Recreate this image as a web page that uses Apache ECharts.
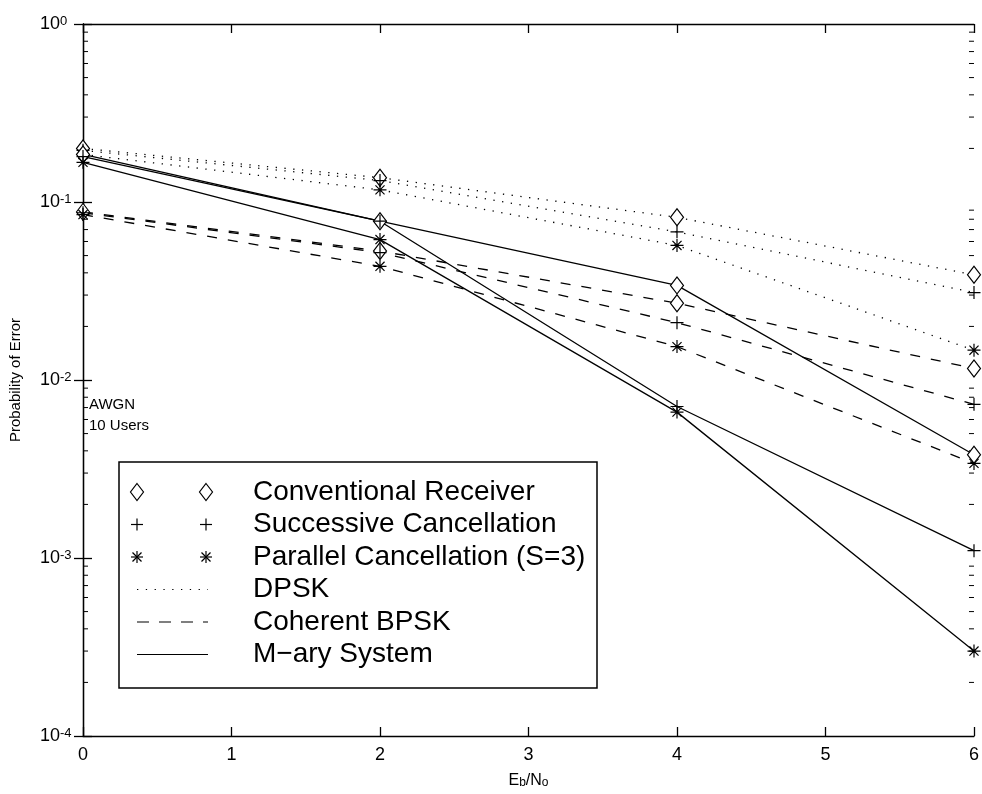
<!DOCTYPE html>
<html>
<head>
<meta charset="utf-8">
<script src="https://cdn.jsdelivr.net/npm/echarts@6/dist/echarts.min.js"></script>
<style>
  html, body { margin: 0; padding: 0; background: #fff; }
  #chart { width: 982px; height: 794px; }
</style>
</head>
<body>
<div id="chart"></div>
<script>
// Eb/No points (dB)
const ebno = [0, 2, 4, 6];

// DPSK
const dpskConventional = [0.2, 0.137, 0.082, 0.039];
const dpskSuccessive   = [0.195, 0.132, 0.068, 0.031];
const dpskParallel     = [0.185, 0.117, 0.057, 0.0147];

// Coherent BPSK
const bpskConventional = [0.088, 0.053, 0.027, 0.0116];
const bpskSuccessive   = [0.087, 0.052, 0.021, 0.0073];
const bpskParallel     = [0.085, 0.0435, 0.0154, 0.0034];

// M-ary system
const maryConventional = [0.185, 0.078, 0.034, 0.0038];
const marySuccessive   = [0.18, 0.078, 0.0071, 0.0011];
const maryParallel     = [0.167, 0.0615, 0.0066, 0.0003];

// minor tick values on the log axis (2..9 x 10^k)
const minorTicks = [];
for (let k = -4; k < 0; k++) {
  for (let m = 2; m <= 9; m++) minorTicks.push(m * Math.pow(10, k));
}

const legendRows = [
  'Conventional Receiver',
  'Successive Cancellation',
  'Parallel Cancellation (S=3)',
  'DPSK',
  'Coherent BPSK',
  'M\u2212ary System'
];

const FONT = '"Liberation Sans", Arial, Helvetica, sans-serif';

const PLUS = 'path://M5,0L5,10M0,5L10,5';
const STAR = 'path://M5,0L5,10M0,5L10,5M1.5,1.5L8.5,8.5M8.5,1.5L1.5,8.5';

const dotted = [1.3, 7.5];
const dashed = [10, 11];

const markers = {
  conventional: { symbol: 'diamond', symbolSize: [13, 17], fill: '#fff' },
  successive:   { symbol: PLUS, symbolSize: 13, fill: 'none' },
  parallel:     { symbol: STAR, symbolSize: 13, fill: 'none' }
};

function curve(values, receiver, dash) {
  const mk = markers[receiver];
  return {
    type: 'line',
    data: ebno.map((x, i) => [x, values[i]]),
    symbol: mk.symbol,
    symbolSize: mk.symbolSize,
    showSymbol: true,
    silent: true,
    clip: false,
    z: 3,
    lineStyle: { color: '#000', width: 1.3, type: dash },
    itemStyle: { color: mk.fill, borderColor: '#000', borderWidth: 1.2 },
    emphasis: { disabled: true }
  };
}

const series = [
  curve(dpskConventional, 'conventional', dotted),
  curve(dpskSuccessive, 'successive', dotted),
  curve(dpskParallel, 'parallel', dotted),
  curve(bpskConventional, 'conventional', dashed),
  curve(bpskSuccessive, 'successive', dashed),
  curve(bpskParallel, 'parallel', dashed),
  curve(maryConventional, 'conventional', 'solid'),
  curve(marySuccessive, 'successive', 'solid'),
  curve(maryParallel, 'parallel', 'solid'),
  {
    // minor ticks on the left and right edges of the box
    type: 'custom',
    silent: true,
    clip: false,
    data: minorTicks.map(v => [0, v]),
    renderItem: function (params, api) {
      const v = api.value(1);
      const l = api.coord([0, v]);
      const r = api.coord([6, v]);
      const st = { stroke: '#000', lineWidth: 1 };
      return {
        type: 'group',
        children: [
          { type: 'line', shape: { x1: l[0], y1: l[1], x2: l[0] + 5, y2: l[1] }, style: st },
          { type: 'line', shape: { x1: r[0] - 5, y1: r[1], x2: r[0], y2: r[1] }, style: st }
        ]
      };
    }
  }
];

// legend drawn as a framed block
const legendLeft = 119, legendTop = 462, legendRight = 597, legendBottom = 688;
const rowY0 = 492, rowStep = 32.5;
const mkX1 = 137, mkX2 = 206, textX = 253;

function diamondShape(cx, cy) {
  return { type: 'polygon', shape: { points: [[cx, cy - 8.5], [cx + 6.5, cy], [cx, cy + 8.5], [cx - 6.5, cy]] },
    style: { fill: '#fff', stroke: '#000', lineWidth: 1.2 } };
}
function plusShape(cx, cy) {
  return { type: 'group', children: [
    { type: 'line', shape: { x1: cx - 6, y1: cy, x2: cx + 6, y2: cy }, style: { stroke: '#000', lineWidth: 1.2 } },
    { type: 'line', shape: { x1: cx, y1: cy - 6, x2: cx, y2: cy + 6 }, style: { stroke: '#000', lineWidth: 1.2 } }
  ] };
}
function starShape(cx, cy) {
  const s = { stroke: '#000', lineWidth: 1.2 };
  return { type: 'group', children: [
    { type: 'line', shape: { x1: cx - 6, y1: cy, x2: cx + 6, y2: cy }, style: s },
    { type: 'line', shape: { x1: cx, y1: cy - 6, x2: cx, y2: cy + 6 }, style: s },
    { type: 'line', shape: { x1: cx - 4.5, y1: cy - 4.5, x2: cx + 4.5, y2: cy + 4.5 }, style: s },
    { type: 'line', shape: { x1: cx - 4.5, y1: cy + 4.5, x2: cx + 4.5, y2: cy - 4.5 }, style: s }
  ] };
}
function sampleLine(cy, dash) {
  return { type: 'line', shape: { x1: mkX1, y1: cy, x2: mkX2 + 2, y2: cy },
    style: { stroke: '#000', lineWidth: 1.2, lineDash: dash } };
}

const legendChildren = [
  { type: 'rect', shape: { x: legendLeft, y: legendTop, width: legendRight - legendLeft, height: legendBottom - legendTop },
    style: { fill: '#fff', stroke: '#000', lineWidth: 1.5 } }
];
const builders = [
  cy => [diamondShape(mkX1, cy), diamondShape(mkX2, cy)],
  cy => [plusShape(mkX1, cy), plusShape(mkX2, cy)],
  cy => [starShape(mkX1, cy), starShape(mkX2, cy)],
  cy => [sampleLine(cy, [1.3, 7.5])],
  cy => [sampleLine(cy, [12, 10])],
  cy => [sampleLine(cy, null)]
];
legendRows.forEach((label, i) => {
  const cy = rowY0 + i * rowStep;
  builders[i](cy).forEach(el => legendChildren.push(el));
  legendChildren.push({ type: 'text', x: textX, y: cy,
    style: { text: label, font: '28px ' + FONT, fill: '#000', textVerticalAlign: 'middle', verticalAlign: 'middle' } });
});

const axisLineStyle = { color: '#000', width: 1.3 };
const logLabel = v => '{b|10}{e|' + Math.round(Math.log10(v)) + '}';

const option = {
  animation: false,
  backgroundColor: '#fff',
  grid: { left: 78, right: 4, top: 24, bottom: 58, containLabel: false },
  xAxis: [
    {
      type: 'value', min: 0, max: 6, interval: 1,
      axisLine: { lineStyle: axisLineStyle },
      axisTick: { inside: true, length: 9, lineStyle: axisLineStyle },
      splitLine: { show: false },
      axisLabel: { color: '#000', fontFamily: FONT, fontSize: 18, margin: 10 },
      name: '{n|E}{s|b}{n|/N}{s|o}',
      nameLocation: 'middle',
      nameGap: 34,
      nameTextStyle: {
        rich: {
          n: { fontFamily: FONT, fontSize: 16, lineHeight: 16, verticalAlign: 'top', color: '#000' },
          s: { fontFamily: FONT, fontSize: 12, lineHeight: 12, padding: [8, 0, 0, 0], verticalAlign: 'bottom', color: '#000' }
        }
      }
    },
    {
      type: 'value', min: 0, max: 6, interval: 1, position: 'top',
      axisLine: { lineStyle: axisLineStyle },
      axisTick: { inside: true, length: 9, lineStyle: axisLineStyle },
      axisLabel: { show: false },
      splitLine: { show: false }
    }
  ],
  yAxis: [
    {
      type: 'log', logBase: 10, min: 1e-4, max: 1,
      axisLine: { lineStyle: axisLineStyle },
      axisTick: { inside: true, length: 9, lineStyle: axisLineStyle },
      splitLine: { show: false },
      axisLabel: {
        formatter: logLabel, margin: 43, align: 'left',
        rich: {
          b: { fontFamily: FONT, fontSize: 18, lineHeight: 18, verticalAlign: 'bottom', color: '#000' },
          e: { fontFamily: FONT, fontSize: 13, lineHeight: 13, padding: [0, 0, 10, 0], verticalAlign: 'top', color: '#000' }
        }
      },
      name: 'Probability of Error',
      nameLocation: 'middle',
      nameGap: 60,
      nameRotate: 90,
      nameTextStyle: { fontFamily: FONT, fontSize: 15, color: '#000' }
    },
    {
      type: 'log', logBase: 10, min: 1e-4, max: 1, position: 'right',
      axisLine: { lineStyle: axisLineStyle },
      axisTick: { inside: true, length: 9, lineStyle: axisLineStyle },
      axisLabel: { show: false },
      splitLine: { show: false }
    }
  ],
  series: series,
  graphic: [
    { type: 'text', left: 89, top: 397, style: { text: 'AWGN', font: '15px ' + FONT, fill: '#000' } },
    { type: 'text', left: 89, top: 418, style: { text: '10 Users', font: '15px ' + FONT, fill: '#000' } },
    { type: 'group', children: legendChildren }
  ]
};

const chart = echarts.init(document.getElementById('chart'), null, { renderer: 'canvas' });
chart.setOption(option);
</script>
</body>
</html>
